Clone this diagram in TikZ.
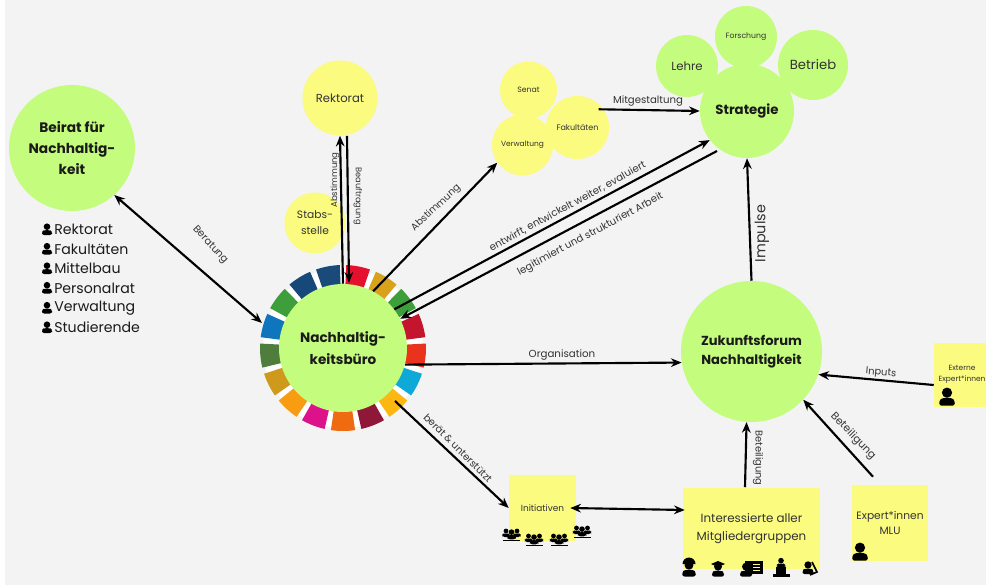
\documentclass[tikz,border=0pt]{standalone}
\usepackage{fontspec}
\setmainfont{Poppins}
\usetikzlibrary{arrows.meta,calc}
\definecolor{bgc}{HTML}{F3F3F3}
\definecolor{grn}{HTML}{C4FC7E}
\definecolor{ylw}{HTML}{FBFB80}
\definecolor{ink}{HTML}{1A1A1A}
\definecolor{lbl}{HTML}{333333}
\tikzset{
  x=0.75pt,y=-0.75pt,
  gcirc/.style={circle,fill=grn,inner sep=0pt,align=center,text=ink},
  ycirc/.style={circle,fill=ylw,inner sep=0pt,align=center,text=lbl},
  ybox/.style={fill=ylw,inner sep=0pt,align=center,text=lbl},
  conn/.style={draw=black,line width=1.6pt,-{Stealth[length=8pt,width=6.5pt]}},
  conb/.style={draw=black,line width=1.6pt,{Stealth[length=8pt,width=6.5pt]}-{Stealth[length=8pt,width=6.5pt]}},
  lab/.style={font=\fontsize{7.6}{9}\selectfont,text=lbl,inner sep=0pt},
  listitem/.style={anchor=west,font=\fontsize{10.6}{12}\selectfont,text=ink,inner sep=0pt},
}
\newcommand{\person}[3]{% x y scale
  \begin{scope}[shift={(#1,#2)},scale=#3]
    \fill[black] (0,-2.8) circle (3.3);
    \fill[black,rounded corners=1.8] (-5,5.6) -- (-5,2.2) -- (-3,0.6) -- (3,0.6) -- (5,2.2) -- (5,5.6) -- cycle;
  \end{scope}}
\newcommand{\groupicon}[2]{% x y
  \person{#1-5.5}{#2-1}{0.72}\person{#1+5.5}{#2-1}{0.72}\person{#1}{#2+0.5}{0.85}
  \fill[black] (#1-8.5,#2+5.5) rectangle (#1+8.5,#2+6.8);}
\begin{document}
\begin{tikzpicture}
\useasboundingbox (0,0) rectangle (986,585);
\clip (0,0) rectangle (986,585);
\fill[white] (0,0) rectangle (986,585);
\fill[bgc] (5,0) rectangle (986,585);

% SDG ring
\fill[white] (343,348) circle (80);
\foreach \c [count=\k from 0] in {E5102E,D9A21B,3E9E3C,C4152F,E9331C,0FA9D8,FDB713,8F1838,EF6B12,DD1189,F89D12,CF9A1B,4E7D3C,0F75BC,3E9E3C,17487A,1A4A7A}{
  \definecolor{sdg}{HTML}{\c}
  \pgfmathsetmacro{\aa}{90-\k*21.176-2.2}
  \pgfmathsetmacro{\ab}{90-(\k+1)*21.176+2.2}
  \fill[sdg] ($(343,348)+(\aa:83 and -83)$) arc[start angle=-\aa,end angle=-\ab,radius=83]
     -- ($(343,348)+(\ab:62 and -62)$) arc[start angle=-\ab,end angle=-\aa,radius=62] -- cycle;
}

% circles
\node[gcirc,minimum size=126pt*0.75,font=\bfseries\fontsize{10.3}{16}\selectfont] (beirat) at (72,148) {Beirat für\\Nachhaltig-\\keit};
\node[gcirc,minimum size=128pt*0.75,font=\bfseries\fontsize{10.2}{16}\selectfont] (buero) at (343,348) {Nachhaltig-\\keitsbüro};
\node[ycirc,minimum size=75pt*0.75,font=\fontsize{8.7}{11}\selectfont] (rektorat) at (340,98) {Rektorat};
\node[ycirc,minimum size=61pt*0.75,font=\fontsize{8}{12}\selectfont] (stabs) at (315,223) {Stabs-\\stelle};
\node[ycirc,minimum size=57pt*0.75,font=\fontsize{5.8}{8}\selectfont] (senat) at (528.5,90) {Senat};
\node[ycirc,minimum size=61pt*0.75,font=\fontsize{5.6}{8}\selectfont] (verw) at (522.5,145) {Verwaltung};
\node[ycirc,minimum size=63pt*0.75,font=\fontsize{6}{8}\selectfont] (fak) at (577.5,127.5) {Fakultäten};
\node[gcirc,minimum size=62pt*0.75,font=\fontsize{8.8}{11}\selectfont,text=lbl] (lehre) at (687,66) {Lehre};
\node[gcirc,minimum size=62pt*0.75,font=\fontsize{5.8}{8}\selectfont,text=lbl] (forschung) at (746,37) {Forschung};
\node[gcirc,minimum size=70pt*0.75,font=\fontsize{9.9}{11}\selectfont,text=lbl] (betrieb) at (813,65) {Betrieb};
\node[gcirc,minimum size=94pt*0.75,font=\bfseries\fontsize{10}{12}\selectfont] (strategie) at (747,111) {Strategie};
\node[gcirc,minimum size=141pt*0.75,font=\bfseries\fontsize{9.8}{14.2}\selectfont] (forum) at (751.5,351.5) {Zukunftsforum\\Nachhaltigkeit};

% boxes
\node[ybox,minimum width=67pt*0.75,minimum height=66pt*0.75,font=\fontsize{6.7}{8}\selectfont] (init) at (542.5,508) {Initiativen};
\node[ybox,minimum width=137pt*0.75,minimum height=81pt*0.75] (inter) at (751.5,528.5) {};
\node[font=\fontsize{8.9}{13.5}\selectfont,text=lbl,align=center,inner sep=0pt] (intertext) at (751.5,528.5) {Interessierte aller\\Mitgliedergruppen};
\node[ybox,minimum width=76pt*0.75,minimum height=76pt*0.75,font=\fontsize{8}{11}\selectfont] (mlu) at (890,523) {Expert*innen\\MLU};
\node[ybox,minimum width=64pt*0.75,minimum height=64pt*0.75] (ext) at (966,375) {};
\node[font=\fontsize{5.6}{8.3}\selectfont,text=lbl,align=center,inner sep=0pt] (exttext) at (962,374.5) {Externe\\Expert*innen};

% connectors
\draw[conb] (beirat.-48) -- (262,323) coordinate (bBei);
\draw[conn] (buero.north) -- (rektorat.south);
\draw[conn] ($(rektorat.south)+(7,0)$) -- ($(buero.north)+(6,-1)$);
\draw[conn] (buero.62) -- (verw.215);
\draw[conn] ($(fak.35)+(-5,0)$) -- (strategie.west);
\draw[conn] (buero.37) -- (strategie.218);
\coordinate (sLeg) at (717,151);
\draw[conn] (sLeg) -- (buero.27);
\draw[conn] (forum.north) -- (strategie.south);
\draw[conn] (buero.-15) -- (forum.189);
\draw[conn] ($(ext.west)+(0,10)$) -- (forum.-19);
\draw[conn] ($(mlu.north)+(-17,-8)$) -- (forum.-43);
\draw[conn] ($(inter.north)+(-6.5,-0.5)$) -- (forum.-94);
\coordinate (bBer) at (395,401);
\draw[conn] (bBer) -- (init.west);
\draw[conb] ($(init.east)+(-6,0)$) -- ($(inter.west)+(2,-18.5)$);

% labels
\node[lab,rotate=-47] at (210,245) {Beratung};
\node[lab,rotate=90,font=\fontsize{6.4}{8}\selectfont] at (335,180) {Abstimmung};
\node[lab,rotate=-90,font=\fontsize{6.2}{8}\selectfont] at (358,196) {Beauftragung};
\node[lab,rotate=43,font=\fontsize{7.3}{9}\selectfont] at (436,208) {Abstimmung};
\node[lab,font=\fontsize{7.6}{9}\selectfont] at (648,101) {Mitgestaltung};
\node[lab,rotate=28.6] at (567.5,206.5) {entwirft, entwickelt weiter, evaluiert};
\node[lab,rotate=28.2] at (590.5,234.5) {legitimiert und strukturiert Arbeit};
\node[lab,rotate=90,font=\fontsize{10.8}{12}\selectfont] at (762,233.5) {Impulse};
\node[lab,font=\fontsize{7.7}{9}\selectfont] at (562,355) {Organisation};
\node[lab,rotate=-5,font=\fontsize{7.4}{9}\selectfont] at (881,373) {Inputs};
\node[lab,rotate=-46,font=\fontsize{8}{9}\selectfont] at (853,436) {Beteiligung};
\node[lab,rotate=-90,font=\fontsize{7.4}{9}\selectfont] at (758,458) {Beteiligung};
\node[lab,rotate=-45,font=\fontsize{7.4}{9}\selectfont] at (458,448) {berät \& unterstützt};

% list
\foreach \t/\yy in {Rektorat/229.5,Fakultäten/249,Mittelbau/268.5,Personalrat/288,Verwaltung/308,Studierende/327.5}{
  \node[listitem] at (54,\yy) {\t};
  \person{47}{\yy}{1.0}
}

% person icons
\person{947}{397}{1.55}
\person{860}{552}{1.55}
\groupicon{511.5}{534}
\groupicon{534}{539}
\groupicon{559}{539}
\groupicon{582}{531}
% member icons
\person{689}{569}{1.35}
\fill[black] (682.5,564) arc[start angle=180,end angle=360,radius=6.5] -- cycle;
\person{718}{570}{1.2}
\fill[black] (711,564) -- (718,561) -- (725,564) -- (718,567) -- cycle;
\fill[black] (745,561) rectangle (763,574);
\foreach \yy in {564,567,570}{\draw[ylw,line width=0.5pt] (753,\yy) -- (760,\yy);}
\person{746}{570}{1.2}
\person{781}{563}{0.85}
\fill[black] (773,573.5) rectangle (790,577);
\fill[black] (776,567) rectangle (786,574);
\person{808}{568}{1.1}
\draw[black,line width=1.2pt] (812,562) -- (817,572) -- (810,575);
\end{tikzpicture}
\end{document}
